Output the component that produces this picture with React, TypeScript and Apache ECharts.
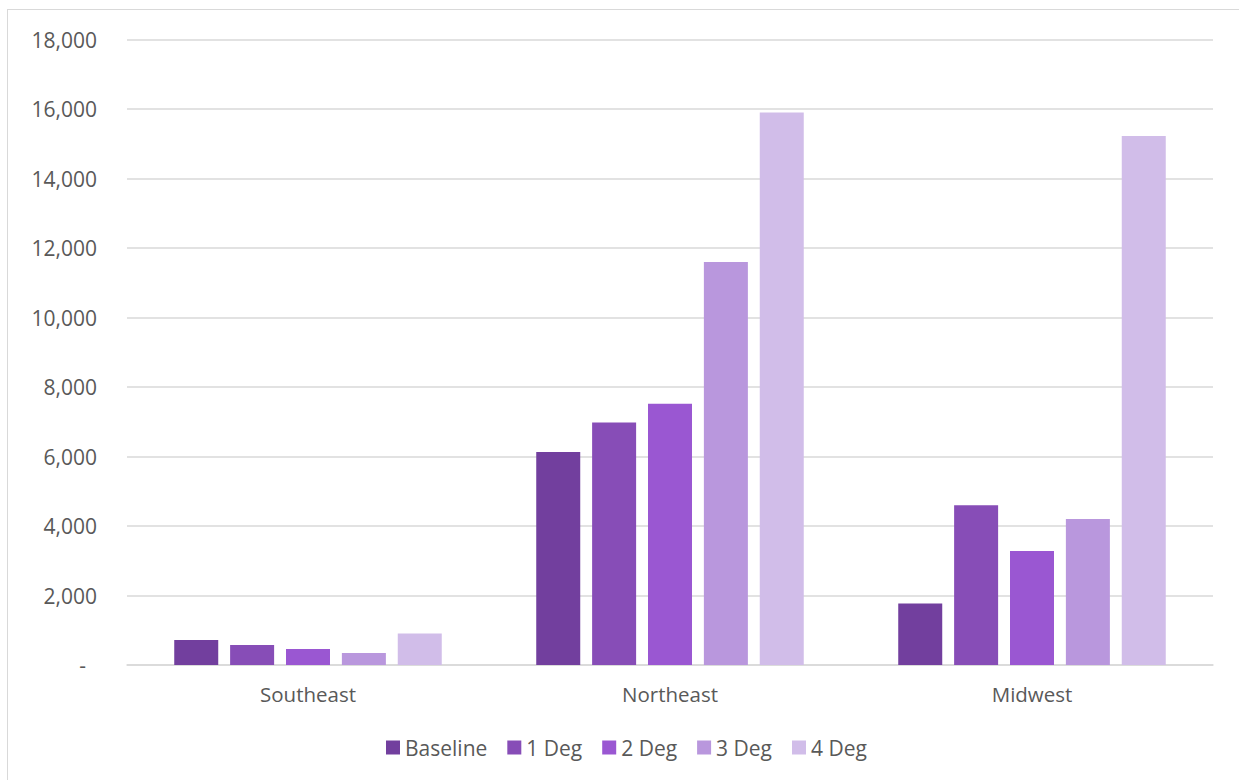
import React, { useEffect, useRef } from "react";
import * as echarts from "echarts";

const categories = ["Southeast", "Northeast", "Midwest"];
const seriesNames = ["Baseline", "1 Deg", "2 Deg", "3 Deg", "4 Deg"];
const baseline = [720, 6130, 1770];
const deg1 = [575, 6980, 4600];
const deg2 = [460, 7520, 3280];
const deg3 = [345, 11600, 4200];
const deg4 = [910, 15900, 15220];
const seriesValues = [baseline, deg1, deg2, deg3, deg4];
const colors = ["#723F9E", "#874DB7", "#9A57D2", "#B997DD", "#D1BDE9"];
const yTicks = { min: 0, max: 18000, interval: 2000 };

const FONT = "'Open Sans', 'Noto Sans', sans-serif";
const TEXT = "#595959";

export default function App() {
  const ref = useRef<HTMLDivElement>(null);
  useEffect(() => {
    if (!ref.current) return;
    const chart = echarts.init(ref.current, undefined, { renderer: "svg" });
    chart.setOption({
      animation: false,
      color: colors,
      textStyle: { fontFamily: FONT },
      grid: { left: 127, right: 26, top: 39.5, bottom: 115, containLabel: false },
      legend: {
        data: seriesNames,
        bottom: 17,
        left: 381,
        itemWidth: 14,
        itemHeight: 14,
        itemGap: 20,
        icon: "rect",
        textStyle: { color: TEXT, fontSize: 21, fontFamily: FONT },
      },
      xAxis: {
        type: "category",
        data: categories,
        axisLine: { show: true, lineStyle: { color: "#d9d9d9", width: 1.5 } },
        axisTick: { show: false },
        axisLabel: { color: TEXT, fontSize: 20.5, fontFamily: FONT, margin: 18 },
      },
      yAxis: {
        type: "value",
        min: yTicks.min,
        max: yTicks.max,
        interval: yTicks.interval,
        axisLine: { show: false },
        axisTick: { show: false },
        splitLine: { lineStyle: { color: "#d9d9d9", width: 1.5 } },
        axisLabel: {
          color: TEXT,
          fontSize: 21,
          fontFamily: FONT,
          margin: 30,
          formatter: (v: number) =>
            v === 0 ? "{z|-}" : v.toLocaleString("en-US"),
          rich: { z: { color: TEXT, fontSize: 21, fontFamily: FONT, padding: [0, 11, 0, 0] } },
        },
      },
      series: seriesNames.map((name, i) => ({
        name,
        type: "bar",
        data: seriesValues[i],
        barWidth: 44,
        barGap: "27%",
        itemStyle: { color: colors[i] },
      })),
    });
    return () => chart.dispose();
  }, []);
  return (
    <div style={{ position: "fixed", left: 0, top: 0, width: 1239, height: 780, background: "#fff" }}>
      <div
        style={{
          position: "absolute",
          left: 7,
          top: 9,
          width: 1240,
          height: 780,
          borderTop: "1px solid #d9d9d9",
          borderLeft: "1px solid #d9d9d9",
        }}
      />
      <div ref={ref} style={{ position: "absolute", left: 0, top: 0, width: 1239, height: 780 }} />
    </div>
  );
}
